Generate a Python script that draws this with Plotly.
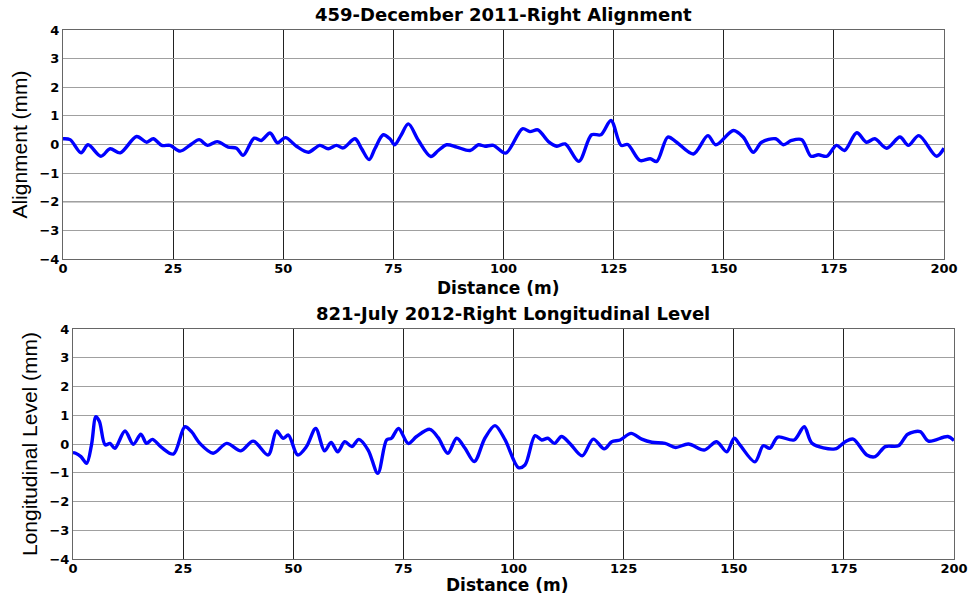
import plotly.graph_objects as go

# Track geometry records: alignment (December 2011) and longitudinal level (July 2012)
align_dist = [0, 1.6, 4.1, 5.7, 8.6, 10.7, 13.0, 16.7, 19.0, 20.5, 22.4, 24.3, 26.6, 29.2,
              30.9, 32.8, 35.0, 37.5, 39.4, 40.9, 43.4, 45.0, 47.0, 48.7, 50.5, 53.0, 55.7,
              58.3, 60.2, 62.1, 63.6, 66.3, 67.8, 69.5, 70.8, 72.7, 74.2, 75.3, 76.7, 78.4,
              80.7, 83.5, 85.2, 87.1, 89.4, 92.4, 94.3, 95.8, 97.7, 100.5, 104.3, 106.0,
              107.8, 110.2, 112.1, 114.0, 117.1, 120.0, 122.1, 124.4, 126.7, 128.2, 131.0,
              133.3, 134.8, 137.3, 139.3, 143.1, 146.4, 148.2, 152.2, 154.4, 156.7, 158.6,
              161.8, 163.5, 165.4, 167.7, 169.8, 171.5, 173.4, 175.6, 177.4, 180.2, 182.4,
              184.3, 187.0, 190.0, 191.9, 194.3, 198.3, 200.0]
align_mm = [0.2, 0.17, -0.29, -0.01, -0.41, -0.15, -0.29, 0.28, 0.08, 0.2, -0.03, -0.03,
            -0.23, 0.02, 0.17, -0.03, 0.1, -0.09, -0.13, -0.38, 0.22, 0.14, 0.4, 0.06, 0.24,
            -0.06, -0.27, -0.03, -0.15, -0.03, -0.12, 0.2, -0.15, -0.53, -0.15, 0.34, 0.2,
            -0.01, 0.31, 0.72, 0.14, -0.42, -0.21, -0.01, -0.09, -0.21, -0.01, -0.06, -0.03,
            -0.3, 0.55, 0.45, 0.51, 0.1, -0.06, 0.02, -0.59, 0.34, 0.34, 0.84, -0.03, 0.0,
            -0.56, -0.5, -0.59, 0.26, 0.08, -0.33, 0.31, -0.01, 0.49, 0.26, -0.27, 0.08, 0.2,
            -0.01, 0.14, 0.17, -0.41, -0.36, -0.41, -0.03, -0.21, 0.41, 0.08, 0.2, -0.13,
            0.26, -0.03, 0.31, -0.41, -0.13]

level_dist = [0, 0.6, 1.8, 3.1, 4.2, 5.2, 6.0, 7.3, 8.4, 9.5, 11.8, 13.7, 15.4, 16.7, 18.0,
              20.1, 22.8, 25.4, 26.9, 28.8, 31.8, 34.9, 38.1, 40.9, 44.3, 46.2, 47.7, 48.9,
              51.0, 53.0, 55.1, 57.1, 58.6, 60.1, 61.7, 63.3, 64.9, 67.0, 69.2, 71.2, 72.3,
              73.9, 76.1, 78.0, 81.0, 82.9, 85.1, 87.1, 89.0, 91.1, 93.5, 95.8, 98.1, 101.1,
              102.6, 104.9, 106.4, 107.8, 109.3, 110.9, 112.8, 115.6, 118.1, 120.6, 122.3,
              124.2, 126.7, 129.1, 131.4, 134.4, 136.8, 139.7, 143.3, 146.1, 148.4, 150.1,
              151.4, 154.8, 156.7, 158.2, 160.0, 163.7, 166.0, 167.8, 173.0, 175.3, 177.1,
              180.2, 182.1, 184.4, 187.4, 189.5, 192.3, 194.2, 198.6, 200.0]
level_mm = [-0.3, -0.32, -0.44, -0.67, -0.03, 0.95, 0.78, -0.03, 0.02, -0.15, 0.45, -0.01,
            0.34, 0.02, 0.16, -0.12, -0.35, 0.6, 0.43, 0.02, -0.32, 0.02, -0.24, 0.1, -0.38,
            0.45, 0.2, 0.31, -0.38, -0.09, 0.54, -0.24, 0.05, -0.27, 0.08, -0.09, 0.16,
            -0.21, -1.02, 0.14, 0.2, 0.54, 0.02, 0.26, 0.51, 0.22, -0.32, 0.2, -0.15, -0.61,
            0.2, 0.64, 0.14, -0.82, -0.73, 0.29, 0.14, 0.2, 0.02, 0.26, 0.02, -0.41, 0.17,
            -0.17, 0.08, 0.14, 0.37, 0.17, 0.06, 0.02, -0.12, 0.0, -0.21, 0.08, -0.27, 0.2,
            -0.03, -0.62, -0.06, -0.15, 0.24, 0.14, 0.6, 0.02, -0.17, 0.08, 0.17, -0.38,
            -0.44, -0.09, -0.06, 0.34, 0.43, 0.1, 0.26, 0.12]

x_ticks = [0, 25, 50, 75, 100, 125, 150, 175, 200]
y_ticks = [-4, -3, -2, -1, 0, 1, 2, 3, 4]

W, H = 972, 596
line_style = dict(color="#0000ff", width=3.4, shape="spline", smoothing=0.9)
tick_font = dict(family="DejaVu Sans", size=13, color="black", weight="bold")
xtitle_font = dict(family="DejaVu Sans", size=17, color="black", weight="bold")
ytitle_font = dict(family="Liberation Sans Narrow, Arial Narrow, Liberation Sans", size=21, color="black")
title_font = dict(family="DejaVu Sans", size=18, color="black", weight="bold")

fig = go.Figure()
fig.add_trace(go.Scatter(x=align_dist, y=align_mm, mode="lines", line=line_style,
                         xaxis="x", yaxis="y", showlegend=False))
fig.add_trace(go.Scatter(x=level_dist, y=level_mm, mode="lines", line=line_style,
                         xaxis="x2", yaxis="y2", showlegend=False))


def px_x(p):
    return p / W


def px_y(p):
    return 1 - p / H


def xaxis(dom, anchor):
    return dict(domain=dom, anchor=anchor, range=[0, 200], tickvals=x_ticks,
                showgrid=True, gridcolor="#222222", gridwidth=1, zeroline=False,
                showline=True, linecolor="#666666", linewidth=1, mirror=True,
                ticks="", tickfont=tick_font, ticklabelstandoff=-3,
                fixedrange=True, automargin=False)


def yaxis(dom, anchor, label, standoff):
    return dict(domain=dom, anchor=anchor, range=[-4, 4], tickvals=y_ticks,
                showgrid=True, gridcolor="#a0a0a0", gridwidth=1, zeroline=False,
                showline=True, linecolor="#666666", linewidth=1, mirror=True,
                ticks="", tickfont=tick_font, fixedrange=True, automargin=False,
                title=dict(text=label, font=ytitle_font, standoff=standoff))


def label(text, cx, cy, font, anchor="middle"):
    return dict(text=text, x=px_x(cx), y=px_y(cy), xref="paper", yref="paper",
                showarrow=False, font=font, xanchor="center", yanchor=anchor)


fig.update_layout(
    width=W, height=H,
    margin=dict(l=0, r=0, t=0, b=0),
    paper_bgcolor="white", plot_bgcolor="white",
    xaxis=xaxis([px_x(63), px_x(944)], "y"),
    yaxis=yaxis([px_y(259), px_y(30)], "x", "Alignment (mm)", 6),
    xaxis2=xaxis([px_x(73), px_x(954)], "y2"),
    yaxis2=yaxis([px_y(559), px_y(329)], "x2", "Longitudinal Level (mm)", 6),
    annotations=[
        label("459-December 2011-Right Alignment", 503, 14, title_font),
        label("821-July 2012-Right Longitudinal Level", 513, 313, title_font),
        label("Distance (m)", 498, 288, xtitle_font),
        label("Distance (m)", 508, 597, xtitle_font, anchor="bottom"),
    ],
    shapes=[
        dict(type="line", xref="x", yref="y", x0=0, x1=200, y0=-2, y1=-2,
             line=dict(color="#333333", width=1), layer="below"),
    ],
)

fig.write_html("out.html")
